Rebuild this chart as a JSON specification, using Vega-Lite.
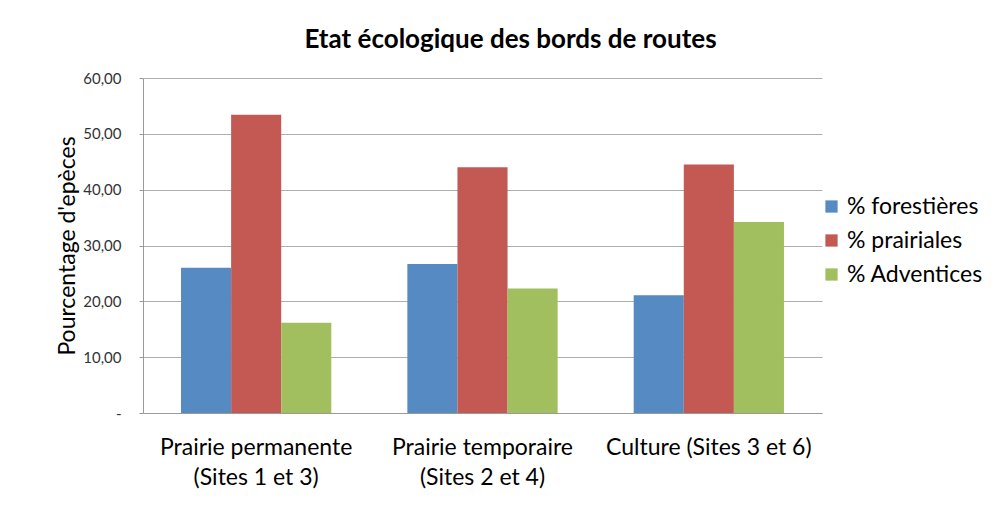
{
  "$schema": "https://vega.github.io/schema/vega-lite/v6.json",
  "width": 679,
  "height": 335,
  "autosize": {"type": "none"},
  "padding": {"left": 143, "top": 78, "right": 177, "bottom": 106},
  "background": "white",
  "title": {
    "text": "Etat écologique des bords de routes",
    "font": "Lato",
    "fontSize": 26,
    "fontWeight": "bold",
    "color": "#000000",
    "anchor": "middle",
    "dx": 28,
    "offset": 18
  },
  "data": {
    "values": [
      {"milieu": "Prairie permanente (Sites 1 et 3)", "type": "% forestières", "valeur": 26.0},
      {"milieu": "Prairie permanente (Sites 1 et 3)", "type": "% prairiales", "valeur": 53.4},
      {"milieu": "Prairie permanente (Sites 1 et 3)", "type": "% Adventices", "valeur": 16.15},
      {"milieu": "Prairie temporaire (Sites 2 et 4)", "type": "% forestières", "valeur": 26.7},
      {"milieu": "Prairie temporaire (Sites 2 et 4)", "type": "% prairiales", "valeur": 44.0},
      {"milieu": "Prairie temporaire (Sites 2 et 4)", "type": "% Adventices", "valeur": 22.3},
      {"milieu": "Culture (Sites 3 et 6)", "type": "% forestières", "valeur": 21.1},
      {"milieu": "Culture (Sites 3 et 6)", "type": "% prairiales", "valeur": 44.5},
      {"milieu": "Culture (Sites 3 et 6)", "type": "% Adventices", "valeur": 34.2}
    ]
  },
  "mark": {"type": "bar", "stroke": null},
  "encoding": {
    "x": {
      "field": "milieu",
      "type": "nominal",
      "sort": null,
      "scale": {"paddingInner": 0.336, "paddingOuter": 0.168},
      "axis": {
        "title": null,
        "labelAngle": 0,
        "labelFont": "Lato",
        "labelFontSize": 23,
        "labelColor": "#000000",
        "labelPadding": 23,
        "labelLineHeight": 30,
        "labelBaseline": "top",
        "labelLimit": 400,
        "ticks": false,
        "domainColor": "#9a9a9a",
        "labelExpr": "indexof(datum.label, 'Prairie') == 0 ? [slice(datum.label, 0, indexof(datum.label, ' (')), slice(datum.label, indexof(datum.label, ' (') + 1)] : datum.label"
      }
    },
    "xOffset": {"field": "type", "type": "nominal", "sort": ["% forestières", "% prairiales", "% Adventices"], "scale": {"paddingInner": 0, "paddingOuter": 0}},
    "y": {
      "field": "valeur",
      "type": "quantitative",
      "scale": {"domain": [0, 60], "nice": false},
      "axis": {
        "title": "Pourcentage d'epèces",
        "titleFont": "Lato",
        "titleFontSize": 23,
        "titleFontWeight": "normal",
        "titleColor": "#000000",
        "titlePadding": 3,
        "values": [0, 10, 20, 30, 40, 50, 60],
        "labelExpr": "datum.value === 0 ? '-' : replace(format(datum.value, '.2f'), '.', ',')",
        "labelFont": "Lato",
        "labelFontSize": 15,
        "labelColor": "#333333",
        "labelPadding": 18,
        "tickSize": 4,
        "tickColor": "#9a9a9a",
        "domainColor": "#9a9a9a",
        "gridColor": "#9a9a9a",
        "gridOpacity": 0.8
      }
    },
    "color": {
      "field": "type",
      "type": "nominal",
      "sort": ["% forestières", "% prairiales", "% Adventices"],
      "scale": {"domain": ["% forestières", "% prairiales", "% Adventices"], "range": ["#558AC2", "#C45954", "#A1BF5E"]},
      "legend": {
        "title": null,
        "orient": "none",
        "legendX": 677,
        "legendY": 117,
        "symbolType": "square",
        "symbolSize": 150,
        "symbolStrokeWidth": 0,
        "labelFont": "Lato",
        "labelFontSize": 23,
        "labelColor": "#000000",
        "rowPadding": 10,
        "labelOffset": 4
      }
    }
  },
  "config": {"view": {"stroke": null}}
}
